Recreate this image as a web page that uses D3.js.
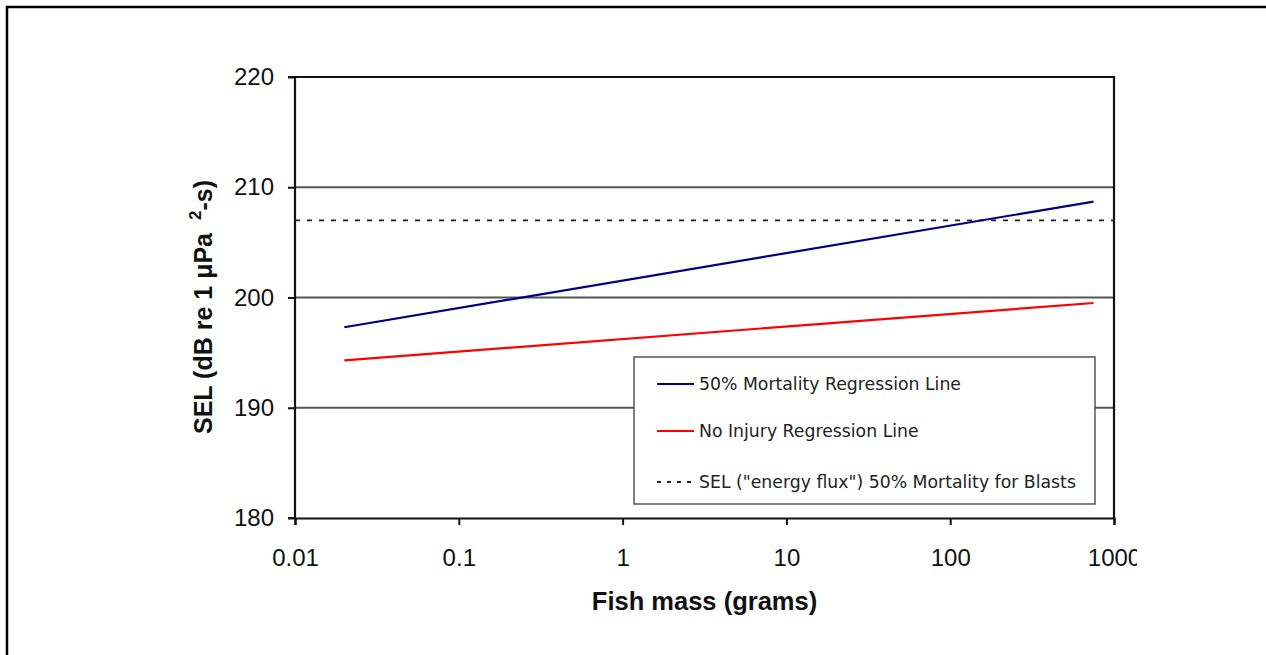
<!DOCTYPE html>
<html>
<head>
<meta charset="utf-8">
<script src="https://cdn.jsdelivr.net/npm/d3@7"></script>
<style>
  html, body { margin: 0; padding: 0; background: #fff; }
  svg { display: block; }
</style>
</head>
<body>
<svg id="chart" width="1266" height="655"></svg>
<script>
// ---- data ----
const xTicks = [0.01, 0.1, 1, 10, 100, 1000];
const xTickLabels = ["0.01", "0.1", "1", "10", "100", "1000"];
const yTicks = [180, 190, 200, 210, 220];
const yTickLabels = ["180", "190", "200", "210", "220"];
const mortalityMass = [0.02, 750];
const mortalitySEL = [197.3, 208.7];
const noInjuryMass = [0.02, 750];
const noInjurySEL = [194.3, 199.5];
const blastSEL = 207;
const seriesNames = ["50% Mortality Regression Line", "No Injury Regression Line", "SEL (\"energy flux\") 50% Mortality for Blasts"];

// ---- layout ----
const svg = d3.select("#chart");
const L = 295, R = 1114, T = 77, B = 518;
const x = d3.scaleLog().domain([0.01, 1000]).range([L, R]);
const y = d3.scaleLinear().domain([180, 220]).range([B, T]);
const FONT = "Liberation Sans, Arial, sans-serif";

// outer frame (extends past right/bottom edge)
svg.append("rect").attr("x", 7).attr("y", 7).attr("width", 1300).attr("height", 700)
  .attr("fill", "none").attr("stroke", "#000").attr("stroke-width", 2.5);

// gridlines
svg.append("g").selectAll("line").data(yTicks.filter(d => d > 180 && d < 220)).join("line")
  .attr("x1", L).attr("x2", R).attr("y1", d => y(d)).attr("y2", d => y(d))
  .attr("stroke", "#555").attr("stroke-width", 1.8);

// plot border (top and right)
svg.append("path").attr("d", `M${L},${T}H${R}V${B}`).attr("fill", "none")
  .attr("stroke", "#111").attr("stroke-width", 2.2);

// axes
const yAxis = d3.axisLeft(y).tickValues(yTicks).tickFormat((d, i) => yTickLabels[i]).tickSize(7).tickPadding(14);
const gy = svg.append("g").attr("transform", `translate(${L},0)`).call(yAxis);
const xAxis = d3.axisBottom(x).tickValues(xTicks).tickFormat((d, i) => xTickLabels[i]).tickSize(7).tickPadding(24);
const gx = svg.append("g").attr("transform", `translate(0,${B})`).call(xAxis);
[gx, gy].forEach(g => {
  g.select(".domain").attr("stroke", "#111").attr("stroke-width", 2.2);
  g.selectAll(".tick line").attr("stroke", "#111").attr("stroke-width", 2);
  g.selectAll(".tick text").attr("font-family", FONT)
    .attr("font-size", 24).attr("fill", "#111");
});
gy.select(".domain").attr("d", `M-7,${B}H0V${T}H-7`);

// dotted blast line
svg.append("line").attr("x1", L).attr("x2", R).attr("y1", y(blastSEL)).attr("y2", y(blastSEL))
  .attr("stroke", "#222").attr("stroke-width", 1.6).attr("stroke-dasharray", "5,7");

// regression lines
const line = d3.line().x(d => x(d[0])).y(d => y(d[1]));
svg.append("path").datum(d3.zip(noInjuryMass, noInjurySEL)).attr("d", line)
  .attr("fill", "none").attr("stroke", "#ff0000").attr("stroke-width", 2.2);
svg.append("path").datum(d3.zip(mortalityMass, mortalitySEL)).attr("d", line)
  .attr("fill", "none").attr("stroke", "#000080").attr("stroke-width", 2.2);

// legend
const lg = svg.append("g");
lg.append("rect").attr("x", 634).attr("y", 357).attr("width", 461).attr("height", 147)
  .attr("fill", "#fff").attr("stroke", "#555").attr("stroke-width", 1.5);
const rows = [
  {name: seriesNames[0], color: "#000080", dash: null, y: 384},
  {name: seriesNames[1], color: "#ff0000", dash: null, y: 431},
  {name: seriesNames[2], color: "#222", dash: "4,6", y: 482}
];
rows.forEach(r => {
  lg.append("line").attr("x1", 657).attr("x2", 694).attr("y1", r.y).attr("y2", r.y)
    .attr("stroke", r.color).attr("stroke-width", 2).attr("stroke-dasharray", r.dash);
  lg.append("text").attr("x", 699).attr("y", r.y).attr("dy", "0.36em")
    .attr("font-family", "DejaVu Sans, sans-serif").attr("font-size", 17.3).attr("fill", "#222")
    .text(r.name);
});

// axis titles
svg.append("text").attr("x", (L + R) / 2).attr("y", 610).attr("text-anchor", "middle")
  .attr("font-family", FONT).attr("font-weight", "bold")
  .attr("font-size", 25.5).attr("fill", "#111").text("Fish mass (grams)");

const yt = svg.append("text").attr("transform", "translate(212,307) rotate(-90)")
  .attr("text-anchor", "middle")
  .attr("font-family", FONT).attr("font-weight", "bold")
  .attr("font-size", 25).attr("fill", "#111");
yt.append("tspan").text("SEL (dB re 1 μPa ");
yt.append("tspan").attr("dx", 6).attr("dy", -11).attr("font-size", 17).text("2");
yt.append("tspan").attr("dy", 11).text("-s)");

// white mask to crop the right edge like the reference
svg.append("rect").attr("x", 1137).attr("y", 540).attr("width", 40).attr("height", 40).attr("fill", "#fff");
</script>
</body>
</html>
